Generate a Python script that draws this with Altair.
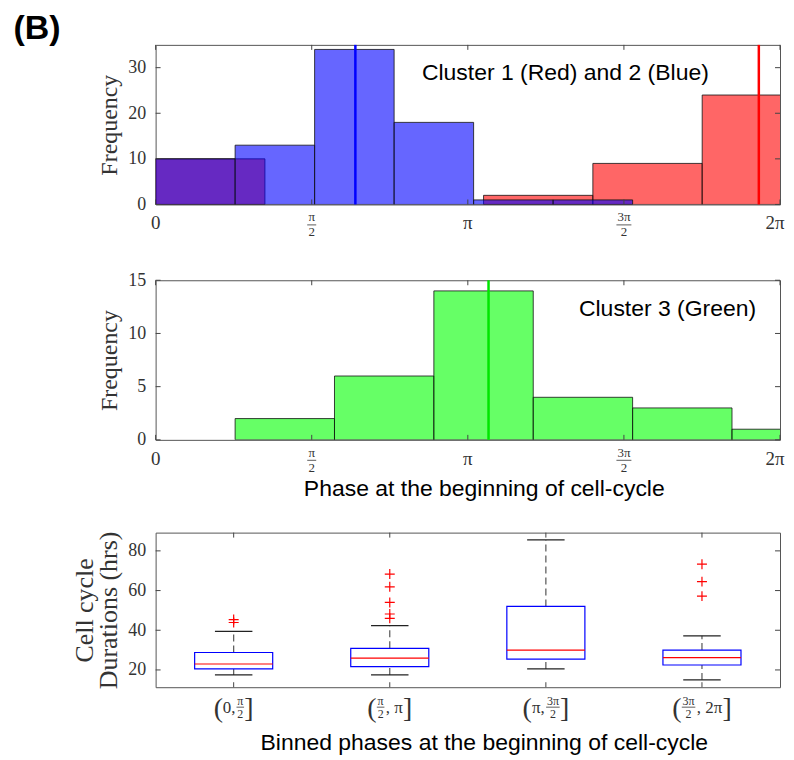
import altair as alt
import numpy as np
import pandas as pd

PI = float(np.pi)

# ---------------- data ----------------
# Cluster 2 (blue) and Cluster 1 (red) phase histograms
blue_edges = [0.0, 0.8, 1.6, 2.4, 3.2, 4.0, 4.8]
blue_counts = [10, 13, 34, 18, 1, 1]
red_edges = [0.0, 1.1, 2.2, 3.3, 4.4, 5.5, 6.6]
red_counts = [10, 0, 0, 2, 9, 24]
blue_mean = 2.01
red_mean = 6.07

# Cluster 3 (green)
green_edges = [0.8, 1.8, 2.8, 3.8, 4.8, 5.8, 6.8]
green_counts = [2, 6, 14, 4, 3, 1]
green_mean = 3.35

phase_ticks = [0.0, PI / 2, PI, 3 * PI / 2, 2 * PI]
phase_tick_labels = [("0",), ("π", "2"), ("π",), ("3π", "2"), ("2π",)]

top_yticks = [0, 10, 20, 30]
mid_yticks = [0, 5, 10, 15]
box_yticks = [20, 40, 60, 80]

# Box plot of cell-cycle durations per phase bin
box_pos = [1, 2, 3, 4]
box_label_tokens = [
    ["(", "0,", ("π", "2"), "]"],
    ["(", ("π", "2"), ", π", "]"],
    ["(", "π,", ("3π", "2"), "]"],
    ["(", ("3π", "2"), ", 2π", "]"],
]
box_q1 = [20.5, 21.7, 25.5, 22.5]
box_med = [23.0, 26.0, 30.0, 26.2]
box_q3 = [28.8, 30.9, 52.0, 30.0]
box_lo = [17.5, 17.5, 20.5, 15.0]
box_hi = [39.4, 42.3, 85.5, 37.2]
box_out = [[43.9, 45.4], [46.0, 48.2, 54.0, 61.9, 68.3], [], [57.2, 64.5, 73.3]]

top_text = "Cluster 1 (Red) and 2 (Blue)"
top_text_pos = (2.68, 28.8)
mid_text = "Cluster 3 (Green)"
mid_text_pos = (4.26, 12.3)

# ---------------- layout / style ----------------
W = 626
H_TOP = 160
H_MID = 160
H_BOX = 155
SERIF = "Liberation Serif"
SANS = "Liberation Sans"
TICK = "#444"
LAB = "#333"


def yaxis(values, title, title_size=24, line_height=None):
    kw = dict(values=values, ticks=False, tickSize=0, domain=False, grid=False,
              labelFont=SERIF, labelFontSize=18, labelColor=LAB, labelPadding=10,
              title=title, titleFont=SERIF, titleFontSize=title_size,
              titleFontWeight="normal", titleColor=LAB, titlePadding=6)
    if line_height:
        kw["titleLineHeight"] = line_height
    return alt.Axis(**kw)


def xaxis(title, pad):
    kw = dict(labels=False, ticks=False, tickSize=0, domain=False, grid=False,
              title=title, titleFont=SANS, titleFontSize=23, titleFontWeight="normal",
              titleColor="black", titlePadding=pad, titleX=W / 2 + 16)
    return alt.Axis(**kw)


def inner_ticks(xvals, yvals, xs, ys, xax, yax, h):
    xt = alt.Chart(pd.DataFrame({"tv": xvals}))
    yt = alt.Chart(pd.DataFrame({"tv": yvals}))
    X = alt.X("tv:Q", scale=xs, axis=xax)
    Y = alt.Y("tv:Q", scale=ys, axis=yax)
    return [
        xt.mark_rule(color=TICK, strokeWidth=1).encode(x=X, y=alt.value(h), y2=alt.value(h - 5)),
        xt.mark_rule(color=TICK, strokeWidth=1).encode(x=X, y=alt.value(0), y2=alt.value(5)),
        yt.mark_rule(color=TICK, strokeWidth=1).encode(y=Y, x=alt.value(0), x2=alt.value(5)),
        yt.mark_rule(color=TICK, strokeWidth=1).encode(y=Y, x=alt.value(W - 5), x2=alt.value(W)),
    ]


def phase_labels(h, xs, xax):
    ppu = W / (2 * PI)
    singles, last, fracs = [], [], []
    for v, lab in zip(phase_ticks, phase_tick_labels):
        if len(lab) == 1:
            (last if v >= 2 * PI - 1e-9 else singles).append({"v": v, "t": lab[0]})
        else:
            hw = (4.5 if len(lab[0]) == 1 else 7.5) / ppu
            fracs.append({"v": v, "num": lab[0], "den": lab[1], "x0": v - hw, "x1": v + hw})
    sd = alt.Chart(pd.DataFrame(singles))
    ld = alt.Chart(pd.DataFrame(last))
    fd = alt.Chart(pd.DataFrame(fracs))
    X = alt.X("v:Q", scale=xs, axis=xax)
    return [
        sd.mark_text(font=SERIF, fontSize=19, color=LAB, baseline="middle").encode(
            x=X, y=alt.value(h + 19), text="t:N"),
        ld.mark_text(font=SERIF, fontSize=19, color=LAB, baseline="middle", dx=-5).encode(
            x=X, y=alt.value(h + 19), text="t:N"),
        fd.mark_text(font=SERIF, fontSize=13, color=LAB, baseline="middle").encode(
            x=X, y=alt.value(h + 13), text="num:N"),
        fd.mark_text(font=SERIF, fontSize=13, color=LAB, baseline="middle").encode(
            x=X, y=alt.value(h + 28), text="den:N"),
        fd.mark_rule(color=LAB, strokeWidth=0.8).encode(
            x=alt.X("x0:Q", scale=xs, axis=xax), x2="x1:Q", y=alt.value(h + 20.5)),
    ]


def hist(edges, counts, color, xs, ys, xax, yax):
    df = pd.DataFrame({"x0": edges[:-1], "x1": edges[1:], "n": counts, "zero": 0})
    df = df[df.n > 0]
    return alt.Chart(df).mark_rect(fill=color, fillOpacity=0.6, stroke="#111",
                                   strokeWidth=0.8, clip=True).encode(
        x=alt.X("x0:Q", scale=xs, axis=xax), x2="x1:Q",
        y=alt.Y("n:Q", scale=ys, axis=yax), y2="zero:Q")


def vline(v, color, xs, xax):
    return alt.Chart(pd.DataFrame({"v": [v]})).mark_rule(color=color, strokeWidth=2.5).encode(
        x=alt.X("v:Q", scale=xs, axis=xax))


def note(text, pos, xs, ys, xax, yax):
    return alt.Chart(pd.DataFrame({"x": [pos[0]], "y": [pos[1]], "t": [text]})).mark_text(
        font=SANS, fontSize=23, color="black", align="left", baseline="middle").encode(
        x=alt.X("x:Q", scale=xs, axis=xax), y=alt.Y("y:Q", scale=ys, axis=yax), text="t:N")


# ---------------- top panel ----------------
xs_phase = alt.Scale(domain=[0, 2 * PI], nice=False, zero=False)
ys_top = alt.Scale(domain=[0, 35], nice=False)
top_xax = xaxis(None, 0)
top_yax = yaxis(top_yticks, "Frequency")
top = alt.layer(
    hist(red_edges, red_counts, "#FF0000", xs_phase, ys_top, top_xax, top_yax),
    hist(blue_edges, blue_counts, "#0000FF", xs_phase, ys_top, top_xax, top_yax),
    vline(blue_mean, "#0000FF", xs_phase, top_xax),
    vline(red_mean, "#FF0000", xs_phase, top_xax),
    note(top_text, top_text_pos, xs_phase, ys_top, top_xax, top_yax),
    *inner_ticks(phase_ticks, top_yticks, xs_phase, ys_top, top_xax, top_yax, H_TOP),
    *phase_labels(H_TOP, xs_phase, top_xax),
).properties(width=W, height=H_TOP)

# ---------------- middle panel ----------------
ys_mid = alt.Scale(domain=[0, 15], nice=False)
mid_xax = xaxis("Phase at the beginning of cell-cycle", 38)
mid_yax = yaxis(mid_yticks, "Frequency")
mid = alt.layer(
    hist(green_edges, green_counts, "#00FF00", xs_phase, ys_mid, mid_xax, mid_yax),
    vline(green_mean, "#00E600", xs_phase, mid_xax),
    note(mid_text, mid_text_pos, xs_phase, ys_mid, mid_xax, mid_yax),
    *inner_ticks(phase_ticks, mid_yticks, xs_phase, ys_mid, mid_xax, mid_yax, H_MID),
    *phase_labels(H_MID, xs_phase, mid_xax),
).properties(width=W, height=H_MID)

# ---------------- box panel ----------------
xs_box = alt.Scale(domain=[0.5, 4.5], nice=False, zero=False)
ys_box = alt.Scale(domain=[11.3, 89.2], nice=False, zero=False)
box_xax = xaxis("Binned phases at the beginning of cell-cycle", 44)
box_yax = yaxis(box_yticks, ["Cell cycle", "Durations (hrs)"], title_size=26, line_height=24)

bdf = pd.DataFrame({"pos": box_pos, "q1": box_q1, "med": box_med, "q3": box_q3,
                    "lo": box_lo, "hi": box_hi})
bdf["x0"] = bdf["pos"] - 0.25
bdf["x1"] = bdf["pos"] + 0.25
bdf["c0"] = bdf["pos"] - 0.12
bdf["c1"] = bdf["pos"] + 0.12
odf = pd.DataFrame([{"pos": p, "v": v} for p, vals in zip(box_pos, box_out) for v in vals])

bc = alt.Chart(bdf)
XP = alt.X("pos:Q", scale=xs_box, axis=box_xax)
XB0 = alt.X("x0:Q", scale=xs_box, axis=box_xax)
XC0 = alt.X("c0:Q", scale=xs_box, axis=box_xax)


def YB(f):
    return alt.Y(f, scale=ys_box, axis=box_yax)


whisk_hi = bc.mark_rule(color="#555", strokeDash=[7, 4], strokeWidth=1.2).encode(
    x=XP, y=YB("q3:Q"), y2="hi:Q")
whisk_lo = bc.mark_rule(color="#555", strokeDash=[7, 4], strokeWidth=1.2).encode(
    x=XP, y=YB("lo:Q"), y2="q1:Q")
cap_hi = bc.mark_rule(color="#222", strokeWidth=1.2).encode(x=XC0, x2="c1:Q", y=YB("hi:Q"))
cap_lo = bc.mark_rule(color="#222", strokeWidth=1.2).encode(x=XC0, x2="c1:Q", y=YB("lo:Q"))
boxes = bc.mark_rect(fill="white", stroke="#0000FF", strokeWidth=1.2).encode(
    x=XB0, x2="x1:Q", y=YB("q1:Q"), y2="q3:Q")
medians = bc.mark_rule(color="#FF0000", strokeWidth=1.2).encode(x=XB0, x2="x1:Q", y=YB("med:Q"))
outliers = alt.Chart(odf).mark_point(shape="M-1,0L1,0M0,-1L0,1", size=100, filled=False,
                                     stroke="#FF0000", strokeWidth=1.2, opacity=1).encode(
    x=XP, y=YB("v:Q"))

# category labels like (0, π/2]  built from tokens
CW = {"(": 0.333, "]": 0.333, ",": 0.25, " ": 0.25, "π": 0.55}
BIG, NORM, FRAC, GAP = 28, 17, 12, 0.5


def tw(s, size):
    return sum(CW.get(c, 0.5) for c in s) * size


ppu_box = W / 4
big_rows, norm_rows, frac_rows = [], [], []
for p, toks in zip(box_pos, box_label_tokens):
    widths = []
    for t in toks:
        if isinstance(t, tuple):
            widths.append(max(tw(t[0], FRAC), tw(t[1], FRAC)) + 2)
        elif t in ("(", "]"):
            widths.append(tw(t, BIG) - 1.5)
        else:
            widths.append(tw(t, NORM))
    total = sum(widths) + GAP * (len(widths) - 1)
    cur = -total / 2
    for t, wdt in zip(toks, widths):
        c = p + (cur + wdt / 2) / ppu_box
        if isinstance(t, tuple):
            frac_rows.append({"c": c, "num": t[0], "den": t[1],
                              "x0": c - (wdt / 2 - 0.5) / ppu_box, "x1": c + (wdt / 2 - 0.5) / ppu_box})
        elif t in ("(", "]"):
            big_rows.append({"c": c, "t": t})
        else:
            norm_rows.append({"c": c, "t": t})
        cur += wdt + GAP

XC = alt.X("c:Q", scale=xs_box, axis=box_xax)
lab_big = alt.Chart(pd.DataFrame(big_rows)).mark_text(font=SERIF, fontSize=BIG, color=LAB,
                                                      baseline="middle").encode(
    x=XC, y=alt.value(H_BOX + 22), text="t:N")
lab_norm = alt.Chart(pd.DataFrame(norm_rows)).mark_text(font=SERIF, fontSize=NORM, color=LAB,
                                                        baseline="middle").encode(
    x=XC, y=alt.value(H_BOX + 21), text="t:N")
fr = alt.Chart(pd.DataFrame(frac_rows))
lab_num = fr.mark_text(font=SERIF, fontSize=FRAC, color=LAB, baseline="middle").encode(
    x=XC, y=alt.value(H_BOX + 14), text="num:N")
lab_den = fr.mark_text(font=SERIF, fontSize=FRAC, color=LAB, baseline="middle").encode(
    x=XC, y=alt.value(H_BOX + 27), text="den:N")
lab_bar = fr.mark_rule(color=LAB, strokeWidth=0.8).encode(
    x=alt.X("x0:Q", scale=xs_box, axis=box_xax), x2="x1:Q", y=alt.value(H_BOX + 20))

box = alt.layer(
    whisk_hi, whisk_lo, cap_hi, cap_lo, boxes, medians, outliers,
    *inner_ticks(box_pos, box_yticks, xs_box, ys_box, box_xax, box_yax, H_BOX),
    lab_big, lab_norm, lab_num, lab_den, lab_bar,
).properties(width=W, height=H_BOX)

upper = alt.vconcat(top, mid, spacing=30)
chart = alt.vconcat(
    upper, box, spacing=28,
    title=alt.TitleParams(text="(B)", anchor="start", font=SANS, fontSize=34,
                          fontWeight="bold", color="black", dx=-58, offset=-3),
).properties(
    padding={"left": 5, "top": 3, "right": 0, "bottom": 0}
).configure_view(stroke="#555", strokeWidth=1).configure_axis(grid=False)

chart.save("out.html", embed_options={"renderer": "svg", "actions": False})
